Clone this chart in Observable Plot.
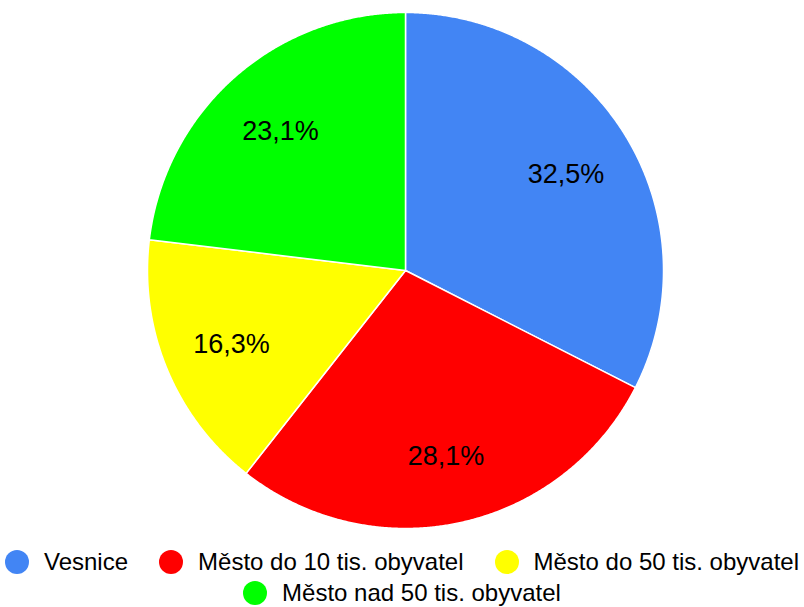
<!DOCTYPE html>
<html><head><meta charset="utf-8">
<script src="https://cdn.jsdelivr.net/npm/d3@7"></script>
<script src="https://cdn.jsdelivr.net/npm/@observablehq/plot@0.6"></script>
<style>
body{margin:0;background:#fff;font-family:"Liberation Sans",Arial,Helvetica,sans-serif;overflow:hidden;}
#legend{display:flex;flex-wrap:wrap;justify-content:center;column-gap:31px;width:804px;margin-top:18px;font-size:24px;color:#000}
.item{display:flex;align-items:center;height:31px;white-space:nowrap}
.sw{width:24px;height:24px;border-radius:50%;margin-right:15px;flex:none}
</style></head><body><div id="chart"></div><div id="legend"></div>
<script>
const categories = ["Vesnice", "Město do 10 tis. obyvatel", "Město do 50 tis. obyvatel", "Město nad 50 tis. obyvatel"];
const values = [32.5, 28.1, 16.3, 23.1];
const labels = ["32,5%", "28,1%", "16,3%", "23,1%"];
const colors = ["#4285f4", "#ff0000", "#ffff00", "#00ff00"];

const table = categories.map((c, i) => ({category: c, value: values[i], label: labels[i]}));
const arcs = d3.pie().sort(null).value(d => d.value)(table);

const features = arcs.map(a => {
  const ring = [[0, 0]];
  const n = Math.max(2, Math.ceil((a.endAngle - a.startAngle) / 0.005));
  for (let k = 0; k <= n; k++) {
    const t = a.startAngle + (a.endAngle - a.startAngle) * k / n;
    ring.push([Math.sin(t), Math.cos(t)]);
  }
  ring.push([0, 0]);
  return {type: "Feature", properties: {category: a.data.category}, geometry: {type: "Polygon", coordinates: [ring]}};
});

const labelPts = arcs.map(a => {
  const m = (a.startAngle + a.endAngle) / 2;
  return {x: 0.73 * Math.sin(m), y: 0.73 * Math.cos(m), label: a.data.label};
});

const chart = Plot.plot({
  width: 804,
  height: 528,
  marginTop: 12,
  marginBottom: 0,
  marginLeft: 147,
  marginRight: 141,
  projection: {type: "reflect-y", domain: {type: "MultiPoint", coordinates: [[-1, -1], [1, 1]]}, inset: 0},
  color: {domain: categories, range: colors},
  marks: [
    Plot.geo(features, {fill: d => d.properties.category, stroke: "white", strokeWidth: 1.5}),
    Plot.text(labelPts, {x: "x", y: "y", text: "label", fontSize: 27, dy: 2, fill: "black", fontFamily: "Liberation Sans, Arial, sans-serif"})
  ]
});
document.getElementById("chart").appendChild(chart);

const legend = document.getElementById("legend");
categories.forEach((c, i) => {
  const item = document.createElement("div");
  item.className = "item";
  const sw = document.createElement("span");
  sw.className = "sw";
  sw.style.background = colors[i];
  const tx = document.createElement("span");
  tx.textContent = c;
  item.appendChild(sw); item.appendChild(tx);
  legend.appendChild(item);
});
</script>
</body></html>
